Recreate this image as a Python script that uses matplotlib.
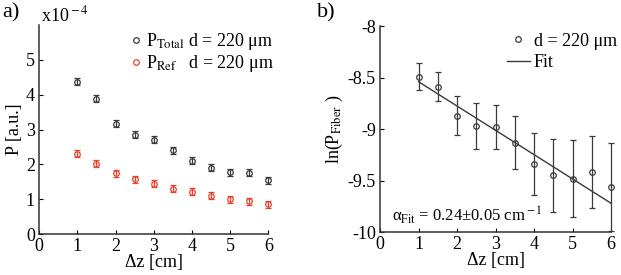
import matplotlib.pyplot as plt
from matplotlib.lines import Line2D

plt.rcParams['font.family'] = ['Liberation Serif', 'DejaVu Serif']
plt.rcParams['mathtext.fontset'] = 'stix'

# panel a
dz = [1, 1.5, 2, 2.5, 3, 3.5, 4, 4.5, 5, 5.5, 6]
p_total = [4.37, 3.88, 3.17, 2.85, 2.70, 2.40, 2.10, 1.90, 1.78, 1.76, 1.55]
p_total_err = [0.1, 0.1, 0.1, 0.1, 0.1, 0.1, 0.1, 0.1, 0.1, 0.1, 0.1]
p_ref = [2.30, 2.02, 1.75, 1.57, 1.45, 1.30, 1.21, 1.10, 1.00, 0.94, 0.85]
p_ref_err = [0.1, 0.1, 0.1, 0.1, 0.1, 0.1, 0.1, 0.1, 0.1, 0.1, 0.1]

# panel b
ln_fiber = [-8.49, -8.59, -8.87, -8.97, -8.98, -9.13, -9.34, -9.45, -9.48, -9.42, -9.56]
ln_fiber_err = [0.135, 0.14, 0.19, 0.22, 0.21, 0.26, 0.30, 0.35, 0.37, 0.35, 0.43]
fit_slope = -0.236
fit_intercept = -8.304

dark = '#3a3a3a'
red = '#e8402a'
fs = 13

fig = plt.figure(figsize=(6.21, 2.75), dpi=100)

ax1 = fig.add_axes([0.063, 0.149, 0.369, 0.76])
for y, e, c in ((p_total, p_total_err, dark), (p_ref, p_ref_err, red)):
    ax1.errorbar(dz, y, yerr=e, fmt='o', mfc='none', mec=c, ecolor=c,
                 ms=4, mew=0.9, elinewidth=0.9, capsize=2, clip_on=False)
ax1.set_xlim(0, 6)
ax1.set_ylim(0, 6)
ax1.set_yticks([0, 1, 2, 3, 4, 5])
ax1.set_xticks([0, 1, 2, 3, 4, 5, 6])
ax1.set_xlabel('Δz [cm]', fontsize=fs, labelpad=-1)
ax1.set_ylabel('P [a.u.]', fontsize=fs, labelpad=2)
ax1.text(0.01, 1.0, 'x10$^{\\rm -4}$', transform=ax1.transAxes, fontsize=fs, va='bottom')
h1 = Line2D([], [], ls='none', marker='o', mfc='none', mec=dark, ms=4, mew=0.9)
h2 = Line2D([], [], ls='none', marker='o', mfc='none', mec=red, ms=4, mew=0.9)
ax1.legend([h1, h2],
           [r'P$_{\rm Total}$ d = 220 μm', r'P$_{\rm Ref}$   d = 220 μm'],
           loc='upper right', bbox_to_anchor=(1.08, 1.03), frameon=False, fontsize=fs,
           handlelength=0.5, handletextpad=0.3, labelspacing=0.05, borderpad=0.2)

ax2 = fig.add_axes([0.612, 0.156, 0.372, 0.749])
ax2.errorbar(dz, ln_fiber, yerr=ln_fiber_err, fmt='o', mfc='none', mec=dark, ecolor=dark,
             ms=4, mew=0.9, elinewidth=0.9, capsize=2, clip_on=False)
fit_y = [fit_intercept + fit_slope * x for x in (dz[0], dz[-1])]
ax2.plot([dz[0], dz[-1]], fit_y, color=dark, lw=1, clip_on=False)
ax2.set_xlim(0, 6)
ax2.set_ylim(-10, -8)
ax2.set_yticks([-10, -9.5, -9, -8.5, -8])
ax2.set_yticklabels(['-10', '-9.5', '-9', '-8.5', '-8'])
ax2.set_xticks([0, 1, 2, 3, 4, 5, 6])
ax2.set_xlabel('Δz [cm]', fontsize=fs, labelpad=-1)
ax2.set_ylabel(r'ln(P$_{\rm Fiber}$ )', fontsize=fs, labelpad=2)
ax2.text(0.05, 0.05, r'α$_{\rm Fit}$ = 0.24±0.05 cm$^{\rm -1}$', transform=ax2.transAxes,
         fontsize=12)
h3 = Line2D([], [], ls='none', marker='o', mfc='none', mec=dark, ms=4, mew=0.9)
h4 = Line2D([], [], color=dark, lw=1)
ax2.legend([h3, h4], ['d = 220 μm', 'Fit'],
           loc='upper right', bbox_to_anchor=(1.08, 1.03), frameon=False, fontsize=fs,
           handlelength=1.3, handletextpad=0.2, labelspacing=0.25, borderpad=0.2)

for ax in (ax1, ax2):
    ax.spines['top'].set_visible(False)
    ax.spines['right'].set_visible(False)
    for s in ('left', 'bottom'):
        ax.spines[s].set_linewidth(1.1)
        ax.spines[s].set_color('#333333')
    ax.tick_params(direction='in', length=3, labelsize=fs, pad=3)

fig.text(0.003, 0.935, 'a)', fontsize=16)
fig.text(0.51, 0.935, 'b)', fontsize=16)

fig.savefig('out.png', dpi=100)
